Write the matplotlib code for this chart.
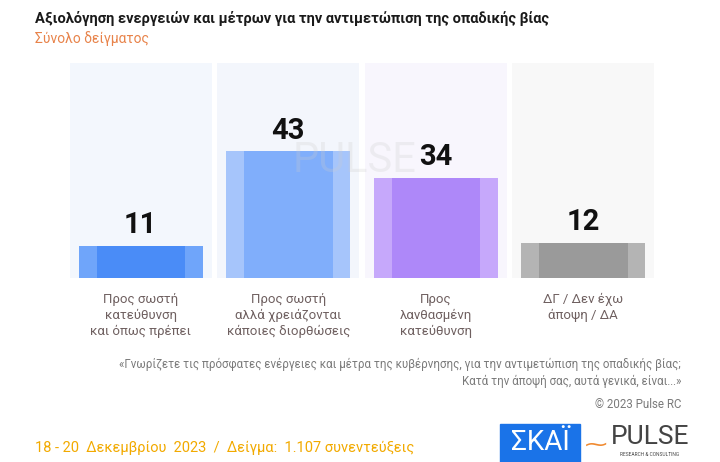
import numpy as np
import matplotlib.pyplot as plt
from matplotlib.patches import Rectangle

plt.rcParams['font.family'] = ['Roboto', 'DejaVu Sans']

# Data
categories = ['Προς σωστή\nκατεύθυνση\nκαι όπως πρέπει',
              'Προς σωστή\nαλλά χρειάζονται\nκάποιες διορθώσεις',
              'Προς\nλανθασμένη\nκατεύθυνση',
              'ΔΓ / Δεν έχω\nάποψη / ΔΑ']
values = [11, 43, 34, 12]
outer_colors = ['#6fa5fa', '#a6c5fb', '#c6a8fb', '#b4b4b4']
inner_colors = ['#4a8cf7', '#80aefb', '#ae88f9', '#9a9a9a']
panel_colors = ['#f3f7fd', '#f3f6fc', '#f8f6fd', '#f8f8f8']

title = 'Αξιολόγηση ενεργειών και μέτρων για την αντιμετώπιση της οπαδικής βίας'
subtitle = 'Σύνολο δείγματος'
question = ('«Γνωρίζετε τις πρόσφατες ενέργειες και μέτρα της κυβέρνησης, για την αντιμετώπιση της οπαδικής βίας;\n'
            'Κατά την άποψή σας, αυτά γενικά, είναι...»')
footer = '18 - 20  Δεκεμβρίου  2023  /  Δείγμα:  1.107 συνεντεύξεις'

fig = plt.figure(figsize=(7.2, 4.62), dpi=100)
ax = fig.add_axes([67/720, 1 - 278/462, 590/720, 215/462])
ymax = 73
x = np.arange(len(values))

# background panels, outer bars, inner bars
ax.bar(x, [ymax]*len(x), width=0.96, color=panel_colors, zorder=0)
ax.bar(x, values, width=0.84, color=outer_colors, zorder=1)
ax.bar(x, values, width=0.60, color=inner_colors, zorder=2)

for xi, v in zip(x, values):
    ax.text(xi, v + 2.3, str(v), ha='center', va='bottom', fontsize=21,
            fontweight='bold', color='#111111', zorder=4)

ax.set_xlim(-0.5, len(values) - 0.5)
ax.set_ylim(0, ymax)
ax.axis('off')

# watermark
ax.text(1.45, 40, 'PULSE', ha='center', va='center', fontsize=30,
        color='#cccccc', alpha=0.25, zorder=3)

# category labels
for xi, lab in zip(x, categories):
    ax.text(xi, -5, lab, ha='center', va='top', fontsize=9.5,
            color='#6f6060', linespacing=1.3)

fig.text(35/720, 1 - 19/462, title, fontsize=10.5, fontweight='bold',
         color='#1a1a1a', va='center')
fig.text(35/720, 1 - 39/462, subtitle, fontsize=10, color='#e8834a',
         va='center')
fig.text(681/720, 1 - 373/462, question, fontsize=8.3, color='#7a7a7a',
         ha='right', va='center', linespacing=1.35)
fig.text(681/720, 1 - 405/462, '© 2023 Pulse RC', fontsize=8.3,
         color='#7a7a7a', ha='right', va='center')
fig.text(35/720, 1 - 448/462, footer, fontsize=10.5, color='#f2aa00',
         va='center')

# logos
fig.patches.append(Rectangle((500/720, 0), 80/720, 38/462,
                             transform=fig.transFigure, color='#1a73e8'))
fig.text(540/720, 1 - 443/462, 'ΣΚΑΪ', fontsize=20, color='white',
         ha='center', va='center')
fig.text(650/720, 1 - 437/462, 'PULSE', fontsize=19, color='#444444',
         ha='center', va='center')
fig.text(650/720, 1 - 455/462, 'RESEARCH & CONSULTING', fontsize=3.5,
         color='#444444', ha='center', va='center')
fig.text(596/720, 1 - 445/462, '⁓', fontsize=16, color='#f08a30',
         ha='center', va='center')

fig.savefig('out.png', dpi=100, facecolor='white')
